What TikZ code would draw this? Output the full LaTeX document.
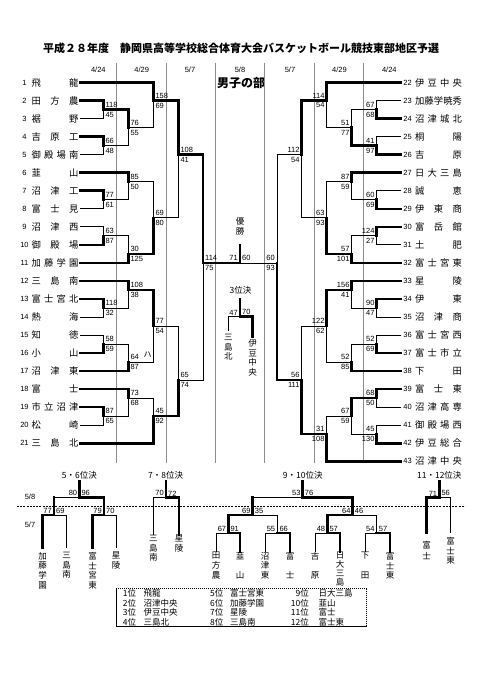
\documentclass[tikz,border=0pt]{standalone}
\usepackage{fontspec}
\setmainfont{Liberation Sans}
\newfontfamily\jp{Noto Sans CJK JP}
\newcounter{sn}
\newcommand\inp[5]{\draw[#1] (#2,#3) -| (#4,#5);}
\newcommand\scL[4]{\stepcounter{sn}\node[sc,anchor=south west,xshift=2pt,yshift=2pt] (sa\thesn) at (#1,#2) {#3};\node[sc,anchor=north west,xshift=2pt,yshift=-2pt] (sb\thesn) at (#1,#2) {#4};}
\newcommand\scR[4]{\stepcounter{sn}\node[sc,anchor=south east,xshift=-2pt,yshift=2pt] (sa\thesn) at (#1,#2) {#3};\node[sc,anchor=north east,xshift=-2pt,yshift=-2pt] (sb\thesn) at (#1,#2) {#4};}
\newcommand\scH[4]{\stepcounter{sn}\node[sc,anchor=south east,xshift=-2pt,yshift=1.5pt] (sa\thesn) at (#1,#2) {#3};\node[sc,anchor=south west,xshift=2pt,yshift=1.5pt] (sb\thesn) at (#1,#2) {#4};}
\newcommand\LT[2]{\node[num] (n#1) at (24.5,#1) {#1};\node[tm] (t#1) at (55,#1) {\makebox[47pt][s]{#2}};}
\newcommand\RT[3]{\node[num] (n#1) at (407.5,#2) {#1};\node[tm] (t#1) at (438.5,#2) {\makebox[47pt][s]{#3}};}
\begin{document}
\begin{tikzpicture}[x=1pt,y=-1pt,
  W/.style={line width=2.6pt,line cap=rect,line join=miter},
  L/.style={line width=0.8pt},
  divider/.style={draw=black!45,line width=0.5pt},
  sc/.style={font=\fontsize{7.5}{8}\selectfont,inner sep=0pt},
  num/.style={font=\fontsize{7.5}{8}\selectfont,inner sep=0pt},
  dt/.style={font=\fontsize{7.5}{8}\selectfont,inner sep=0pt},
  tm/.style={font=\jp\fontsize{9.3}{10}\selectfont,inner sep=0pt},
  vt/.style={font=\jp\fontsize{8.5}{9.7}\selectfont,inner sep=0pt,align=center,anchor=north},
  jl/.style={font=\jp\fontsize{8.5}{10}\selectfont,inner sep=0pt},
  lg/.style={font=\jp\fontsize{8.5}{10}\selectfont,inner sep=0pt,anchor=west}]
\useasboundingbox (0,0) rectangle (481,680);
\fill[white] (0,0) rectangle (481,680);
% title
\node[font=\jp\bfseries\fontsize{11}{12}\selectfont,inner sep=0pt] (title) at (241,48) {平成２８年度　静岡県高等学校総合体育大会バスケットボール競技東部地区予選};
\node[font=\jp\bfseries\fontsize{12}{13}\selectfont,inner sep=0pt] (bu) at (241,83) {男子の部};
% dates
\node[dt] (d1) at (98.3,69.5) {4/24};
\node[dt] (d2) at (141.7,69.5) {4/29};
\node[dt] (d3) at (190,69.5) {5/7};
\node[dt] (d4) at (240,69.5) {5/8};
\node[dt] (d5) at (290,69.5) {5/7};
\node[dt] (d6) at (339.5,69.5) {4/29};
\node[dt] (d7) at (389.3,69.5) {4/24};
% dividers
\foreach \x in {116.7,166,215.7,264.3,314,363.3} \draw[divider] (\x,63) -- (\x,463);
\begin{scope}[y=-18.03pt,yshift=-64.57pt]
% left teams
\LT{1}{飛\hfill 龍}
\LT{2}{田\hfill 方\hfill 農}
\LT{3}{裾\hfill 野}
\LT{4}{吉\hfill 原\hfill 工}
\LT{5}{御\hfill 殿\hfill 場\hfill 南}
\LT{6}{韮\hfill 山}
\LT{7}{沼\hfill 津\hfill 工}
\LT{8}{富\hfill 士\hfill 見}
\LT{9}{沼\hfill 津\hfill 西}
\LT{10}{御\hfill 殿\hfill 場}
\LT{11}{加\hfill 藤\hfill 学\hfill 園}
\LT{12}{三\hfill 島\hfill 南}
\LT{13}{富\hfill 士\hfill 宮\hfill 北}
\LT{14}{熱\hfill 海}
\LT{15}{知\hfill 徳}
\LT{16}{小\hfill 山}
\LT{17}{沼\hfill 津\hfill 東}
\LT{18}{富\hfill 士}
\LT{19}{市\hfill 立\hfill 沼\hfill 津}
\LT{20}{松\hfill 崎}
\LT{21}{三\hfill 島\hfill 北}
% right teams
\RT{22}{1}{伊\hfill 豆\hfill 中\hfill 央}
\RT{23}{2}{加\hfill 藤\hfill 学\hfill 暁\hfill 秀}
\RT{24}{3}{沼\hfill 津\hfill 城\hfill 北}
\RT{25}{4}{桐\hfill 陽}
\RT{26}{5}{吉\hfill 原}
\RT{27}{6}{日\hfill 大\hfill 三\hfill 島}
\RT{28}{7}{誠\hfill 恵}
\RT{29}{8}{伊\hfill 東\hfill 商}
\RT{30}{9}{富\hfill 岳\hfill 館}
\RT{31}{10}{土\hfill 肥}
\RT{32}{11}{富\hfill 士\hfill 宮\hfill 東}
\RT{33}{12}{星\hfill 陵}
\RT{34}{13}{伊\hfill 東}
\RT{35}{14}{沼\hfill 津\hfill 商}
\RT{36}{15}{富\hfill 士\hfill 宮\hfill 西}
\RT{37}{16}{富\hfill 士\hfill 市\hfill 立}
\RT{38}{17}{下\hfill 田}
\RT{39}{18}{富\hfill 士\hfill 東}
\RT{40}{19}{沼\hfill 津\hfill 高\hfill 専}
\RT{41}{20}{御\hfill 殿\hfill 場\hfill 西}
\RT{42}{21}{伊\hfill 豆\hfill 総\hfill 合}
\RT{43}{22}{沼\hfill 津\hfill 中\hfill 央}
% ---- left bracket
\def\T{80}\def\A{103.3}\def\B{128.3}\def\C{153.3}\def\D{178.3}\def\E{203}
\inp{L}{\T}{3}{\A}{2.5}\inp{W}{\T}{2}{\A}{2.5}\scL{\A}{2.5}{118}{45}
\inp{L}{\T}{5}{\A}{4.5}\inp{W}{\T}{4}{\A}{4.5}\scL{\A}{4.5}{66}{48}
\inp{L}{\T}{8}{\A}{7.5}\inp{W}{\T}{7}{\A}{7.5}\scL{\A}{7.5}{77}{61}
\inp{L}{\T}{9}{\A}{9.5}\inp{W}{\T}{10}{\A}{9.5}\scL{\A}{9.5}{63}{87}
\inp{L}{\T}{14}{\A}{13.5}\inp{W}{\T}{13}{\A}{13.5}\scL{\A}{13.5}{118}{32}
\inp{L}{\T}{15}{\A}{15.5}\inp{W}{\T}{16}{\A}{15.5}\scL{\A}{15.5}{58}{59}
\inp{L}{\T}{20}{\A}{19.5}\inp{W}{\T}{19}{\A}{19.5}\scL{\A}{19.5}{87}{65}
\inp{L}{\A}{4.5}{\B}{3.5}\inp{W}{\A}{2.5}{\B}{3.5}\scL{\B}{3.5}{76}{55}
\inp{L}{\A}{7.5}{\B}{6.5}\inp{W}{\T}{6}{\B}{6.5}\scL{\B}{6.5}{85}{50}
\inp{L}{\A}{9.5}{\B}{10.5}\inp{W}{\T}{11}{\B}{10.5}\scL{\B}{10.5}{30}{125}
\inp{L}{\A}{13.5}{\B}{12.5}\inp{W}{\T}{12}{\B}{12.5}\scL{\B}{12.5}{108}{38}
\inp{L}{\A}{15.5}{\B}{16.5}\inp{W}{\T}{17}{\B}{16.5}\scL{\B}{16.5}{64}{87}
\inp{L}{\A}{19.5}{\B}{18.5}\inp{W}{\T}{18}{\B}{18.5}\scL{\B}{18.5}{73}{68}
\inp{L}{\B}{3.5}{\C}{2}\inp{W}{\T}{1}{\C}{2}\scL{\C}{2}{158}{69}
\inp{L}{\B}{6.5}{\C}{8.5}\inp{W}{\B}{10.5}{\C}{8.5}\scL{\C}{8.5}{69}{80}
\inp{L}{\B}{16.5}{\C}{14.5}\inp{W}{\B}{12.5}{\C}{14.5}\scL{\C}{14.5}{77}{54}
\inp{L}{\B}{18.5}{\C}{19.5}\inp{W}{\T}{21}{\C}{19.5}\scL{\C}{19.5}{45}{92}
\inp{L}{\C}{8.5}{\D}{5}\inp{W}{\C}{2}{\D}{5}\scL{\D}{5}{108}{41}
\inp{L}{\C}{14.5}{\D}{17.5}\inp{W}{\C}{19.5}{\D}{17.5}\scL{\D}{17.5}{65}{74}
\inp{L}{\D}{17.5}{\E}{11}\inp{W}{\D}{5}{\E}{11}\scL{\E}{11}{114}{75}
% ---- right bracket
\def\T{401}\def\A{376.7}\def\B{351.7}\def\C{326.7}\def\D{301.7}\def\E{277}
\inp{L}{\T}{2}{\A}{2.5}\inp{W}{\T}{3}{\A}{2.5}\scR{\A}{2.5}{67}{68}
\inp{L}{\T}{4}{\A}{4.5}\inp{W}{\T}{5}{\A}{4.5}\scR{\A}{4.5}{41}{97}
\inp{L}{\T}{7}{\A}{7.5}\inp{W}{\T}{8}{\A}{7.5}\scR{\A}{7.5}{60}{69}
\inp{L}{\T}{10}{\A}{9.5}\inp{W}{\T}{9}{\A}{9.5}\scR{\A}{9.5}{124}{27}
\inp{L}{\T}{14}{\A}{13.5}\inp{W}{\T}{13}{\A}{13.5}\scR{\A}{13.5}{90}{47}
\inp{L}{\T}{15}{\A}{15.5}\inp{W}{\T}{16}{\A}{15.5}\scR{\A}{15.5}{52}{69}
\inp{L}{\T}{19}{\A}{18.5}\inp{W}{\T}{18}{\A}{18.5}\scR{\A}{18.5}{68}{50}
\inp{L}{\T}{20}{\A}{20.5}\inp{W}{\T}{21}{\A}{20.5}\scR{\A}{20.5}{45}{130}
\inp{L}{\A}{2.5}{\B}{3.5}\inp{W}{\A}{4.5}{\B}{3.5}\scR{\B}{3.5}{51}{77}
\inp{L}{\A}{7.5}{\B}{6.5}\inp{W}{\T}{6}{\B}{6.5}\scR{\B}{6.5}{87}{59}
\inp{L}{\A}{9.5}{\B}{10.5}\inp{W}{\T}{11}{\B}{10.5}\scR{\B}{10.5}{57}{101}
\inp{L}{\A}{13.5}{\B}{12.5}\inp{W}{\T}{12}{\B}{12.5}\scR{\B}{12.5}{156}{41}
\inp{L}{\A}{15.5}{\B}{16.5}\inp{W}{\T}{17}{\B}{16.5}\scR{\B}{16.5}{52}{85}
\inp{L}{\A}{20.5}{\B}{19.5}\inp{W}{\A}{18.5}{\B}{19.5}\scR{\B}{19.5}{67}{59}
\inp{L}{\B}{3.5}{\C}{2}\inp{W}{\T}{1}{\C}{2}\scR{\C}{2}{114}{54}
\inp{L}{\B}{6.5}{\C}{8.5}\inp{W}{\B}{10.5}{\C}{8.5}\scR{\C}{8.5}{63}{93}
\inp{L}{\B}{16.5}{\C}{14.5}\inp{W}{\B}{12.5}{\C}{14.5}\scR{\C}{14.5}{122}{62}
\inp{L}{\B}{19.5}{\C}{20.5}\inp{W}{\T}{22}{\C}{20.5}\scR{\C}{20.5}{31}{108}
\inp{L}{\C}{8.5}{\D}{5}\inp{W}{\C}{2}{\D}{5}\scR{\D}{5}{112}{54}
\inp{L}{\C}{14.5}{\D}{17.5}\inp{W}{\C}{20.5}{\D}{17.5}\scR{\D}{17.5}{56}{111}
\inp{L}{\D}{5}{\E}{11}\inp{W}{\D}{17.5}{\E}{11}\scR{\E}{11}{60}{93}
% final
\draw[L] (277,11) -- (240,11);
\draw[W] (203,11) -- (240,11) -- (240,10);
\node[sc,anchor=south east,xshift=-2pt,yshift=2pt] (f1) at (240,11) {71};
\node[sc,anchor=south west,xshift=2pt,yshift=2pt] (f2) at (240,11) {60};
\end{scope}
\node[vt,font=\jp\fontsize{8.5}{9.5}\selectfont] (yu) at (240,217.5) {優\\勝};
\node[jl] (l3) at (240.5,290) {3位決};
\draw[L] (240,316.7) -| (228.3,331);
\draw[W] (240,299) -- (240,316.7) -| (252.7,337);
\node[sc,anchor=south east,xshift=-2pt,yshift=1.5pt] (p1) at (240,316.7) {47};
\node[sc,anchor=south west,xshift=2pt,yshift=1.5pt] (p2) at (240,316.7) {70};
\node[vt] (mk) at (228.3,334) {三\\島\\北};
\node[vt] (iz) at (252.7,339) {伊\\豆\\中\\央};
\node[font=\jp\fontsize{8}{9}\selectfont,inner sep=0pt] (ha) at (147.5,354.5) {ハ};
% lower section
\draw[line width=0.6pt,dash pattern=on 2pt off 1.2pt] (17,506.7) -- (465,506.7);
\node[dt] (e58) at (30,497) {5/8};
\node[dt] (e57) at (30,524.5) {5/7};
% 5-6
\node[jl] (l56) at (79.3,475) {5・6位決};
\draw[L] (54,497.7) -- (79.3,497.7);
\draw[W] (79.3,481) -- (79.3,497.7) -| (104,515) -| (92.7,548);
\draw[W] (54,497.7) -- (54,515) -| (42.7,548);
\draw[L] (54,515) -| (66.7,548);
\draw[L] (104,515) -| (116,548);
\scH{79.3}{497.7}{80}{96}
\scH{54}{515}{77}{69}
\scH{104}{515}{79}{70}
\node[vt] (b1) at (42.7,552) {加\\藤\\学\\園};
\node[vt] (b2) at (66.7,552) {三\\島\\南};
\node[vt] (b3) at (92.7,552) {富\\士\\宮\\東};
\node[vt] (b4) at (116,552) {星\\陵};
% 7-8
\node[jl] (l78) at (165.7,475) {7・8位決};
\draw[L] (166,497.7) -| (153.3,535);
\draw[W] (166,481) -- (166,497.7) -| (179,535);
\scH{166}{497.7}{70}{72}
\node[vt] (b5) at (153.3,535) {三\\島\\南};
\node[vt] (b6) at (179,535) {星\\陵};
% 9-10
\node[jl] (l910) at (302.7,475) {9・10位決};
\draw[L] (252.7,497.7) -- (302.7,497.7);
\draw[W] (302.7,481) -- (302.7,497.7) -| (352.7,515) -| (327.3,533) -| (340,552);
\draw[W] (252.7,497.7) -- (252.7,515) -| (228.3,533) -| (240,552);
\draw[L] (252.7,515) -| (277.3,533);
\draw[L] (228.3,533) -| (216,552);
\draw[L] (277.3,533) -| (265,552);
\draw[W] (277.3,533) -| (290,552);
\draw[L] (352.7,515) -| (376.7,533);
\draw[L] (327.3,533) -| (315,552);
\draw[L] (376.7,533) -| (365,552);
\draw[W] (376.7,533) -| (390,552);
\scH{302.7}{497.7}{53}{76}
\scH{252.7}{515}{69}{35}
\scH{352.7}{515}{64}{46}
\scH{228.3}{533}{67}{91}
\scH{277.3}{533}{55}{66}
\scH{327.3}{533}{48}{57}
\scH{376.7}{533}{54}{57}
\node[vt] (c1) at (216,552) {田\\方\\農};
\node[vt] (c2) at (240,552) {韮\\[9.7pt]山};
\node[vt] (c3) at (265,552) {沼\\津\\東};
\node[vt] (c4) at (290,552) {富\\[9.7pt]士};
\node[vt] (c5) at (315,552) {吉\\[9.7pt]原};
\node[vt,font=\jp\fontsize{8.5}{9}\selectfont] (c6) at (340,552) {日\\大\\三\\島};
\node[vt] (c7) at (365,552) {下\\[9.7pt]田};
\node[vt] (c8) at (390,552) {富\\士\\東};
% 11-12
\node[jl] (l1112) at (439.3,475) {11・12位決};
\draw[W] (439.3,481) -- (439.3,497.7) -| (426.7,533);
\draw[L] (439.3,497.7) -| (450.7,533);
\scH{439.3}{497.7}{71}{56}
\node[vt,font=\jp\fontsize{8.5}{11}\selectfont] (d11) at (426.7,541) {富\\士};
\node[vt] (d12) at (450.7,537) {富\\士\\東};
% legend
\draw[line width=0.6pt,dash pattern=on 1.2pt off 0.8pt] (116,588.3) rectangle (366.7,626);
\node[lg] (g1) at (122.7,593.3) {1位}; \node[lg] (h1) at (143.3,593.3) {飛龍};
\node[lg] (g2) at (122.7,602.8) {2位}; \node[lg] (h2) at (143.3,602.8) {沼津中央};
\node[lg] (g3) at (122.7,612.3) {3位}; \node[lg] (h3) at (143.3,612.3) {伊豆中央};
\node[lg] (g4) at (122.7,621.8) {4位}; \node[lg] (h4) at (143.3,621.8) {三島北};
\node[lg] (g5) at (210,593.3) {5位}; \node[lg] (h5) at (230,593.3) {富士宮東};
\node[lg] (g6) at (210,602.8) {6位}; \node[lg] (h6) at (230,602.8) {加藤学園};
\node[lg] (g7) at (210,612.3) {7位}; \node[lg] (h7) at (230,612.3) {星陵};
\node[lg] (g8) at (210,621.8) {8位}; \node[lg] (h8) at (230,621.8) {三島南};
\node[lg,anchor=east] (g9) at (309,593.3) {9位}; \node[lg] (h9) at (318.3,593.3) {日大三島};
\node[lg,anchor=east] (g10) at (309,602.8) {10位}; \node[lg] (h10) at (318.3,602.8) {韮山};
\node[lg,anchor=east] (g11) at (309,612.3) {11位}; \node[lg] (h11) at (318.3,612.3) {富士};
\node[lg,anchor=east] (g12) at (309,621.8) {12位}; \node[lg] (h12) at (318.3,621.8) {富士東};
\end{tikzpicture}
\end{document}
